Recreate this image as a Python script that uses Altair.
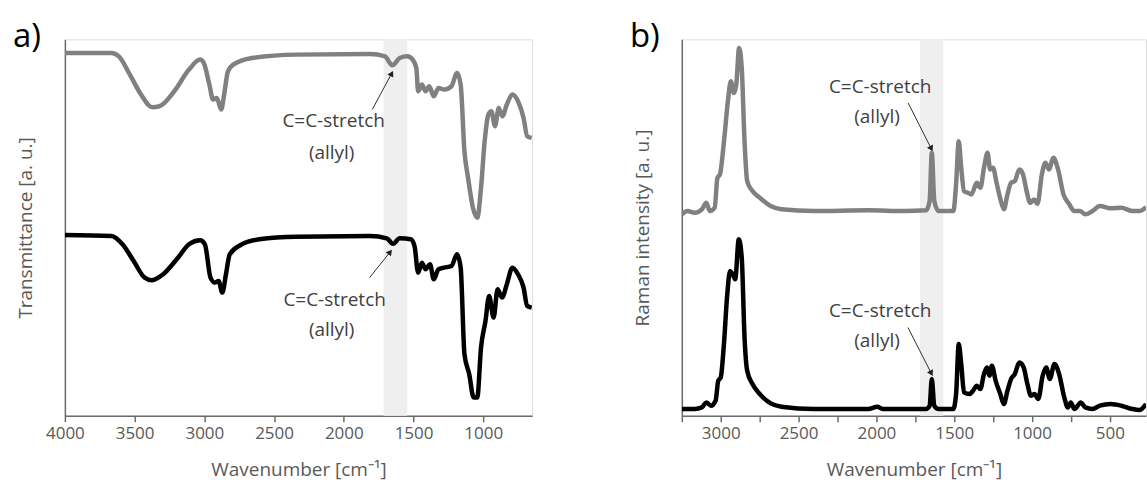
import altair as alt
import pandas as pd

# ---------------- FTIR (panel a) ----------------
IR_WN_GRAY = [4000, 3666, 3613, 3534, 3454, 3375, 3322, 3216, 3110, 3030,
              3004, 2964, 2938, 2911, 2879, 2858, 2831, 2792, 2659, 2341,
              1811, 1705, 1652, 1599, 1546, 1506, 1480, 1467, 1440, 1414,
              1387, 1355, 1321, 1281, 1228, 1188, 1162, 1135, 1109, 1074,
              1043, 1016, 990, 963, 942, 916, 889, 863, 831, 791,
              751, 711, 685, 653]
IR_T_GRAY = [363.3, 363.3, 360, 341.7, 321.7, 309, 310, 325, 346.7, 356.7,
             353.3, 331.7, 316.7, 318.3, 306.7, 321.7, 345, 351.7, 358.3, 361.7,
             362.3, 360, 351, 358.3, 360, 356.7, 348.3, 325, 331.7, 325,
             330, 320, 328.3, 326.7, 330, 343.3, 331.7, 265, 238.3, 208.3,
             198.3, 228.3, 275, 301.7, 305, 290, 308.3, 300, 311.7, 321.7,
             315, 298.3, 280, 278.3]

IR_WN_BLACK = [4000, 3666, 3587, 3507, 3428, 3375, 3295, 3189, 3110, 3030,
               2996, 2956, 2924, 2898, 2871, 2845, 2818, 2739, 2606, 2341,
               1811, 1692, 1647, 1599, 1520, 1493, 1467, 1440, 1414, 1382,
               1355, 1321, 1281, 1228, 1188, 1162, 1135, 1101, 1069, 1043,
               1016, 984, 958, 926, 897, 865, 831, 791, 751, 711,
               685, 653]
IR_T_BLACK = [181, 180, 171.7, 155, 138.3, 135.7, 141.7, 158.3, 171.7, 175.7,
              171.7, 138.3, 133.3, 135, 123.3, 141.7, 161.7, 171, 176.7, 179.3,
              180, 177.7, 172.3, 177.7, 176.7, 170, 143.3, 153.3, 146.7, 151.7,
              136.7, 146.7, 148.3, 150, 161.7, 148.3, 61.7, 41.7, 18.3, 18.3,
              68.3, 95, 120, 98.3, 126.7, 118.3, 131.7, 148.3, 141.7, 128.3,
              110, 108.3]

IR_TICKS = [4000, 3750, 3500, 3250, 3000, 2750, 2500, 2250, 2000, 1750,
            1500, 1250, 1000, 750]
IR_DOMAIN = [4000, 650]
IR_BAND = [1715, 1545]

# ---------------- Raman (panel b) ----------------
RA_WN_GRAY = [3249, 3214, 3167, 3121, 3093, 3070, 3039, 3021, 3005, 2981,
              2954, 2935, 2916, 2900, 2882, 2865, 2847, 2830, 2796, 2749,
              2679, 2610, 2401, 2052, 1820, 1681, 1658, 1644, 1628, 1600,
              1506, 1488, 1471, 1455, 1437, 1413, 1390, 1355, 1332, 1309,
              1286, 1269, 1251, 1228, 1200, 1181, 1158, 1135, 1111, 1081,
              1058, 1035, 1012, 988, 965, 937, 914, 891, 863, 833,
              798, 763, 728, 693, 658, 612, 565, 496, 426, 356,
              310, 268]
RA_I_GRAY = [201.7, 205, 203.3, 206.7, 213.3, 205, 208.3, 238.3, 241.7, 271.7,
             315, 335, 323.3, 331.7, 368.3, 348.3, 275, 235, 225, 218.3,
             210, 206.7, 205, 205.7, 205, 205.7, 215, 263.3, 215, 205,
             205, 231.7, 275, 248.3, 225, 223.3, 221.7, 233.3, 228.3, 248.3,
             263.3, 246.7, 248.3, 233.3, 215, 206.7, 221.7, 233.3, 235, 246.7,
             241.7, 225, 213.3, 216.7, 212.3, 241.7, 253.3, 246.7, 258.3, 246.7,
             221.7, 212.3, 205, 205, 201.7, 205, 210, 207.7, 208.3, 205,
             205, 209]

RA_WN_BLACK = [3249, 3167, 3121, 3093, 3063, 3033, 3016, 3000, 2981, 2958,
               2940, 2923, 2907, 2884, 2865, 2847, 2830, 2796, 2749, 2679,
               2610, 2401, 2052, 1994, 1959, 1681, 1658, 1644, 1628, 1600,
               1506, 1488, 1471, 1455, 1437, 1402, 1379, 1355, 1332, 1309,
               1290, 1274, 1258, 1234, 1204, 1181, 1158, 1135, 1111, 1081,
               1054, 1030, 1007, 984, 960, 932, 909, 886, 856, 826,
               793, 770, 751, 728, 686, 658, 612, 565, 496, 426,
               356, 310, 268]
RA_I_BLACK = [6.7, 6.7, 8.3, 13.3, 10, 15, 35, 38.3, 68.3, 121.7,
              145, 141.7, 136.7, 176.7, 158.3, 78.3, 45, 31.7, 21.7, 12.3,
              9, 6.7, 6.7, 9, 6.7, 6.7, 10, 36.7, 10, 6.7,
              6.7, 21.7, 71.7, 51.7, 23.3, 21.7, 25, 30, 26.7, 41.7,
              48.3, 40, 50, 35, 21.7, 11.7, 25, 36.7, 41.7, 53.3,
              48.3, 31.7, 20, 21.7, 16.7, 40, 48.3, 36.7, 51.7, 41.7,
              18.3, 8.3, 13.3, 6.7, 13.3, 8.3, 6.7, 10, 11.7, 10,
              6.7, 5.7, 11.7]

RA_TICKS = [3250, 3000, 2750, 2500, 2250, 2000, 1750, 1500, 1250, 1000, 750, 500]
RA_DOMAIN = [3250, 268]
RA_BAND = [1720, 1570]

# annotations: (wavenumber, value, text)
IR_LABELS = {"wn": [2073, 2087, 2066, 2087], "v": [295, 263, 116, 86],
             "t": ["C=C-stretch", "(allyl)", "C=C-stretch", "(allyl)"]}
IR_ARROWS = {"x": [1796, 1815], "y": [306.7, 138.3], "x2": [1660, 1672], "y2": [342, 163.3],
             "ang": [28, 38]}
RA_LABELS = {"wn": [1976, 1996, 1976, 1996], "v": [329.5, 299, 105, 75],
             "t": ["C=C-stretch", "(allyl)", "C=C-stretch", "(allyl)"]}
RA_ARROWS = {"x": [1796, 1797], "y": [313.3, 88.3], "x2": [1650, 1650], "y2": [268.3, 43.3],
             "ang": [153, 153]}

FONT = "Open Sans"
AX_COL = "#6b6b6b"
TXT_COL = "#595959"
W_A, W_B, H = 468, 465, 377
YMAX = 377


def panel(wn_g, v_g, wn_b, v_b, ticks, domain, band, labels, arrows, ytitle, tag, width, pin):
    xs = alt.Scale(domain=domain, nice=False, zero=False)
    ys = alt.Scale(domain=[0, YMAX], nice=False, zero=False)
    xaxis = alt.Axis(values=ticks, format="d",
                     labelExpr="datum.value % 500 === 0 ? datum.label : ''",
                     labelOverlap=False, labelFlush=False, grid=False,
                     tickSize=6, tickWidth=1.5, tickColor=AX_COL,
                     domainColor=AX_COL, domainWidth=1.5,
                     labelFont=FONT, labelFontSize=17, labelColor=TXT_COL, labelPadding=4,
                     title="Wavenumber [cm⁻¹]", titleFont=FONT, titleFontSize=19,
                     titleFontWeight="normal", titleColor=TXT_COL, titlePadding=19)
    yaxis = alt.Axis(labels=False, ticks=False, grid=False,
                     domainColor=AX_COL, domainWidth=1.5,
                     title=ytitle, titleFont=FONT, titleFontSize=19,
                     titleFontWeight="normal", titleColor=TXT_COL, titlePadding=29)

    band_df = pd.DataFrame({"a": [band[0]], "b": [band[1]]})
    band_l = alt.Chart(band_df).mark_rect(color="#efefef").encode(
        x=alt.X("a:Q", scale=xs, axis=xaxis), x2="b:Q")

    g_df = pd.DataFrame({"wn": wn_g, "v": v_g})
    b_df = pd.DataFrame({"wn": wn_b, "v": v_b})
    line_g = alt.Chart(g_df).mark_line(color="#808080", strokeWidth=4.5, clip=True,
                                       interpolate="monotone", strokeJoin="round").encode(
        x=alt.X("wn:Q", scale=xs, axis=xaxis), y=alt.Y("v:Q", scale=ys, axis=yaxis))
    line_b = alt.Chart(b_df).mark_line(color="#000000", strokeWidth=4.5, clip=True,
                                       interpolate="monotone", strokeJoin="round").encode(
        x=alt.X("wn:Q", scale=xs, axis=xaxis), y=alt.Y("v:Q", scale=ys, axis=yaxis))

    lab_df = pd.DataFrame(labels)
    txt = alt.Chart(lab_df).mark_text(font=FONT, fontSize=19, color="#404040",
                                      align="center", baseline="middle").encode(
        x=alt.X("wn:Q", scale=xs), y=alt.Y("v:Q", scale=ys), text="t:N")

    arr_df = pd.DataFrame(arrows)
    rule = alt.Chart(arr_df).mark_rule(color="#303030", strokeWidth=1).encode(
        x=alt.X("x:Q", scale=xs), y=alt.Y("y:Q", scale=ys), x2="x2:Q", y2="y2:Q")
    head = alt.Chart(arr_df).mark_point(shape="triangle", filled=True, size=45,
                                        color="#202020", opacity=1).encode(
        x=alt.X("x2:Q", scale=xs), y=alt.Y("y2:Q", scale=ys),
        angle=alt.Angle("ang:Q", scale=None))

    one = pd.DataFrame({"k": [0]})
    tag_l = alt.Chart(one).mark_text(font=FONT, fontSize=33, color="#000000",
                                     align="left", baseline="alphabetic", text=tag).encode(
        x=alt.value(-52), y=alt.value(8))
    layers = [band_l, line_g, line_b, txt, rule, head, tag_l]
    if pin:
        pin_l = alt.Chart(one).mark_rect(opacity=0).encode(
            x=alt.value(-64), x2=alt.value(-63), y=alt.value(-38), y2=alt.value(-37))
        layers.append(pin_l)
    return alt.layer(*layers).properties(width=width, height=H)


pa = panel(IR_WN_GRAY, IR_T_GRAY, IR_WN_BLACK, IR_T_BLACK, IR_TICKS, IR_DOMAIN, IR_BAND,
           IR_LABELS, IR_ARROWS, "Transmittance [a. u.]", "a)", W_A, True)
pb = panel(RA_WN_GRAY, RA_I_GRAY, RA_WN_BLACK, RA_I_BLACK, RA_TICKS, RA_DOMAIN, RA_BAND,
           RA_LABELS, RA_ARROWS, "Raman intensity [a. u.]", "b)", W_B, False)

chart = alt.hconcat(pa, pb, spacing=150, bounds="flush").resolve_scale(
    x="independent", y="independent").properties(padding=0).configure_view(
    stroke=None).configure(font=FONT, background="white")

chart.save("out.html", embed_options={"renderer": "svg", "actions": False})
